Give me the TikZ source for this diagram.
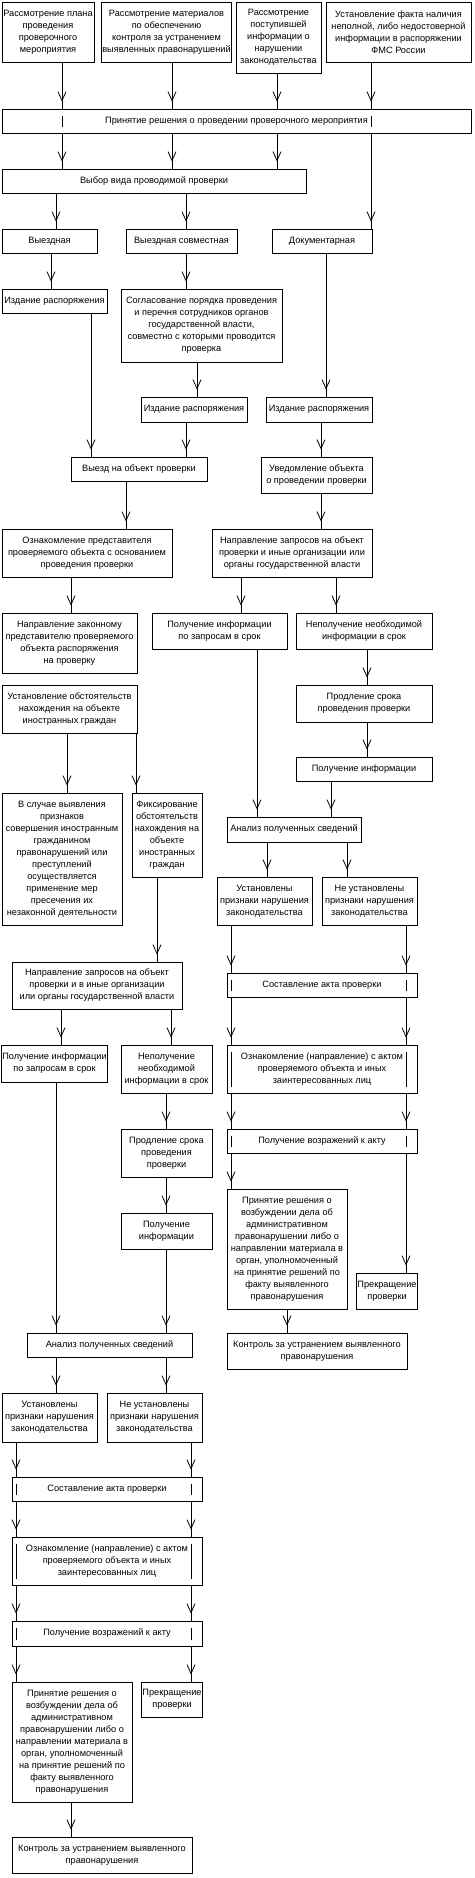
\documentclass[tikz,border=0pt]{standalone}
\usepackage{fontspec}
\setmainfont{Liberation Sans}
\usetikzlibrary{arrows.meta,decorations.markings,calc}

\begin{document}
\begin{tikzpicture}[x=1pt, y=-1pt, line width=0.8pt,
    boite/.style={draw, align=center, inner sep=1pt,
        font=\fontsize{9.2}{12}\selectfont},
    taille/.style 2 args={minimum width=#1, minimum height=#2},
    fleche/.style={draw, postaction={decorate}, decoration={markings,
        mark=at position -7pt with {\arrow{Straight Barb[length=9pt, width=8pt]}}}}]
    \useasboundingbox (0,0) rectangle (474,1878);

    % debut
    \node[boite, taille={92}{60}] (plan) at (48,32) {Рассмотрение плана\\ проведения\\ проверочного\\ мероприятия};
    \node[boite, taille={129}{60}] (materiaux) at (166.5,32) {Рассмотрение материалов\\ по обеспечению\\ контроля за устранением\\ выявленных правонарушений};
    \node[boite, taille={85}{71}] (infos) at (278.5,37.5) {Рассмотрение\\ поступившей\\ информации о\\ нарушении\\ законодательства};
    \node[boite, taille={145}{60}] (fait) at (398.5,32) {Установление факта наличия\\ неполной, либо недостоверной\\ информации в распоряжении\\ ФМС России};
    \node[boite, taille={469}{24}] (decision) at (236.5,121) {Принятие решения о проведении проверочного мероприятия};
    \node[boite, taille={304}{24}] (choix) at (154,181) {Выбор вида проводимой проверки};
    \node[boite, taille={95}{24}] (sortie) at (49.5,241) {Выездная};
    \node[boite, taille={111}{24}] (commune) at (181.5,241) {Выездная совместная};
    \node[boite, taille={100}{24}] (docu) at (322,241) {Документарная};
    \node[boite, taille={105}{24}] (ordreA) at (54.5,301) {Издание распоряжения};
    \node[boite, taille={161}{73}] (accord) at (201.5,325.5) {Согласование порядка проведения\\ и перечня сотрудников органов\\ государственной власти,\\ совместно с которыми проводится\\ проверка};
    \node[boite, taille={106}{25}] (ordreB) at (194,409.5) {Издание распоряжения};
    \node[boite, taille={106}{25}] (ordreC) at (319,409.5) {Издание распоряжения};
    \node[boite, taille={136}{24}] (depart) at (139,469) {Выезд на объект проверки};
    \node[boite, taille={111}{36}] (avis) at (316.5,475) {Уведомление объекта\\ о проведении проверки};
    \node[boite, taille={170}{48}] (presenter) at (87,553) {Ознакомление представителя\\ проверяемого объекта с основанием\\ проведения проверки};
    \node[boite, taille={160}{48}] (demandes) at (292,553) {Направление запросов на объект\\ проверки и иные организации или\\ органы государственной власти};
    \node[boite, taille={135}{60}] (envoi) at (69.5,643) {Направление законному\\ представителю проверяемого\\ объекта распоряжения\\ на проверку};
    \node[boite, taille={135}{36}] (recu) at (219.5,631) {Получение информации\\ по запросам в срок};
    \node[boite, taille={136}{36}] (nonrecu) at (364,631) {Неполучение необходимой\\ информации в срок};
    \node[boite, taille={135}{48}] (etrangers) at (69.5,709) {Установление обстоятельств\\ нахождения на объекте\\ иностранных граждан};
    \node[boite, taille={136}{37}] (delai) at (364,703.5) {Продление срока\\ проведения проверки};
    \node[boite, taille={136}{24}] (reponse) at (364,769) {Получение информации};
    \node[boite, taille={120}{132}] (mesures) at (62,859) {В случае выявления\\ признаков\\ совершения иностранным\\ гражданином\\ правонарушений или\\ преступлений\\ осуществляется\\ применение мер\\ пресечения их\\ незаконной деятельности};
    \node[boite, taille={70}{84}] (constat) at (167,835) {Фиксирование\\ обстоятельств\\ нахождения на\\ объекте\\ иностранных\\ граждан};
    \node[boite, taille={134}{25}] (analyse) at (294,829.5) {Анализ полученных сведений};
    \node[boite, taille={95}{48}] (oui) at (264.5,901) {Установлены\\ признаки нарушения\\ законодательства};
    \node[boite, taille={95}{48}] (non) at (369.5,901) {Не установлены\\ признаки нарушения\\ законодательства};
    \node[boite, taille={190}{24}] (acte) at (322,985) {Составление акта проверки};
    \node[boite, taille={190}{48}] (lecture) at (322,1069) {Ознакомление (направление) с актом\\ проверяемого объекта и иных\\ заинтересованных лиц};
    \node[boite, taille={190}{24}] (objections) at (322,1141) {Получение возражений к акту};
    \node[boite, taille={120}{120}] (poursuite) at (287,1249) {Принятие решения о\\ возбуждении дела об\\ административном\\ правонарушении либо о\\ направлении материала в\\ орган, уполномоченный\\ на принятие решений по\\ факту выявленного\\ правонарушения};
    \node[boite, taille={60}{36}] (arret) at (387,1291) {Прекращение\\ проверки};
    \node[boite, taille={180}{36}] (controle) at (317,1351) {Контроль за устранением выявленного\\ правонарушения};

    % branche de gauche
    \node[boite, taille={170}{47}] (demandesB) at (97,985.5) {Направление запросов на объект\\ проверки и в иные организации\\ или органы государственной власти};
    \node[boite, taille={105}{37}] (recuB) at (54.5,1063.5) {Получение информации\\ по запросам в срок};
    \node[boite, taille={91}{48}] (nonrecuB) at (166.5,1069) {Неполучение\\ необходимой\\ информации в срок};
    \node[boite, taille={91}{48}] (delaiB) at (166.5,1153) {Продление срока\\ проведения\\ проверки};
    \node[boite, taille={91}{36}] (reponseB) at (166.5,1231) {Получение\\ информации};
    \node[boite, taille={165}{24}] (analyseB) at (109.5,1345) {Анализ полученных сведений};
    \node[boite, taille={95}{49}] (ouiB) at (49.5,1417.5) {Установлены\\ признаки нарушения\\ законодательства};
    \node[boite, taille={95}{49}] (nonB) at (154.5,1417.5) {Не установлены\\ признаки нарушения\\ законодательства};
    \node[boite, taille={190}{24}] (acteB) at (107,1489) {Составление акта проверки};
    \node[boite, taille={190}{48}] (lectureB) at (107,1561) {Ознакомление (направление) с актом\\ проверяемого объекта и иных\\ заинтересованных лиц};
    \node[boite, taille={190}{25}] (objectionsB) at (107,1633.5) {Получение возражений к акту};
    \node[boite, taille={120}{120}] (poursuiteB) at (72,1742) {Принятие решения о\\ возбуждении дела об\\ административном\\ правонарушении либо о\\ направлении материала в\\ орган, уполномоченный\\ на принятие решений по\\ факту выявленного\\ правонарушения};
    \node[boite, taille={60}{35}] (arretB) at (172,1699.5) {Прекращение\\ проверки};
    \node[boite, taille={180}{36}] (controleB) at (102,1855) {Контроль за устранением выявленного\\ правонарушения};

    % fleches
    \foreach \a/\b/\x in {plan/decision/62, materiaux/decision/172, infos/decision/277, fait/decision/371,
            decision/choix/62, decision/choix/172, decision/choix/277, decision/docu/371,
            choix/sortie/56, choix/commune/186, sortie/ordreA/51, commune/accord/186,
            ordreA/depart/91, accord/ordreB/197, docu/ordreC/326, ordreB/depart/186, ordreC/avis/321,
            depart/presenter/126, avis/demandes/321, presenter/envoi/71,
            demandes/recu/241, demandes/nonrecu/336, etrangers/mesures/67, etrangers/constat/136,
            nonrecu/delai/367, delai/reponse/367, recu/analyse/257, reponse/analyse/331,
            analyse/oui/267, analyse/non/347, oui/acte/231, non/acte/406,
            acte/lecture/231, acte/lecture/406, lecture/objections/231, lecture/objections/406,
            objections/poursuite/231, objections/arret/406, poursuite/controle/287,
            constat/demandesB/157, demandesB/recuB/61, demandesB/nonrecuB/171,
            nonrecuB/delaiB/166, delaiB/reponseB/166, recuB/analyseB/56, reponseB/analyseB/166,
            analyseB/ouiB/56, analyseB/nonB/166, ouiB/acteB/16, nonB/acteB/191,
            acteB/lectureB/16, acteB/lectureB/191, lectureB/objectionsB/16, lectureB/objectionsB/191,
            objectionsB/poursuiteB/16, objectionsB/arretB/191, poursuiteB/controleB/71}
        \draw[fleche] (\a.south -| \x,0) -- (\b.north -| \x,0);

    % traits qui traversent les cadres
    \foreach \b/\x in {decision/62, decision/371,
            acte/231, acte/406, lecture/231, lecture/406, objections/231, objections/406,
            acteB/16, acteB/191, lectureB/16, lectureB/191, objectionsB/16, objectionsB/191}
        \draw ($(\b.north -| \x,0)+(0,7)$) -- ($(\b.south -| \x,0)+(0,-6)$);
\end{tikzpicture}
\end{document}
